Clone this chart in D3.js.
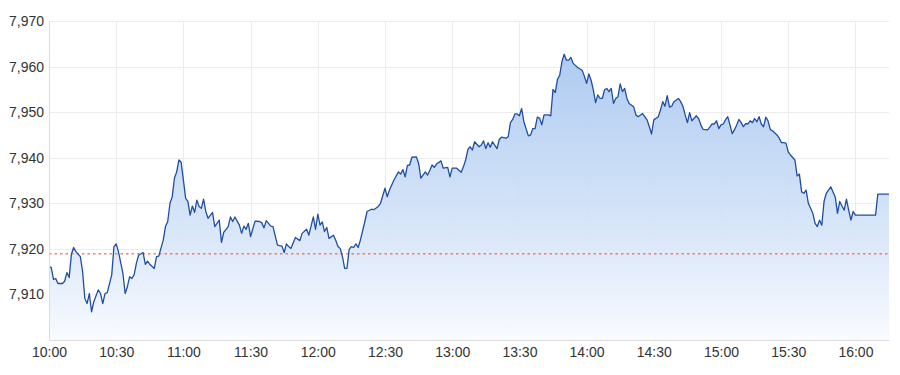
<!DOCTYPE html>
<meta charset="utf-8">
<style>
    body { margin: 0; background: #fff; }
    svg { display: block; font-family: "Liberation Sans", Arial, sans-serif; }
    .grid line { stroke: #ececec; stroke-width: 1; }
    .axis text { fill: #333; font-size: 14px; }
    .line { fill: none; stroke: #1f4ea1; stroke-width: 1.3; stroke-linejoin: round; }
</style>
<svg width="900" height="375"></svg>
<script src="https://d3js.org/d3.v7.min.js"></script>
<script>

    // intraday prints
    var times = [
        "10:00","10:01","10:02","10:03","10:04","10:06","10:07","10:08","10:09","10:10",
        "10:11","10:12","10:14","10:15","10:16","10:17","10:18","10:19","10:20","10:22",
        "10:23","10:24","10:25","10:26","10:28","10:29","10:30","10:31","10:33","10:34",
        "10:35","10:36","10:37","10:38","10:39","10:40","10:42","10:43","10:44","10:45",
        "10:47","10:48","10:49","10:51","10:52","10:53","10:54","10:55","10:56","10:57",
        "10:58","10:59","11:00","11:01","11:02","11:03","11:04","11:05","11:06","11:07",
        "11:08","11:09","11:10","11:11","11:13","11:14","11:16","11:17","11:18","11:20",
        "11:21","11:22","11:23","11:25","11:26","11:27","11:28","11:29","11:30","11:32",
        "11:34","11:35","11:36","11:37","11:38","11:39","11:40","11:42","11:44","11:45",
        "11:46","11:47","11:48","11:50","11:52","11:53","11:55","11:56","11:58","11:59",
        "12:00","12:01","12:02","12:03","12:04","12:05","12:07","12:08","12:09","12:10",
        "12:11","12:12","12:13","12:14","12:15","12:16","12:17","12:18","12:19","12:21",
        "12:22","12:24","12:25","12:27","12:28","12:30","12:31","12:32","12:34","12:36",
        "12:37","12:38","12:39","12:40","12:41","12:42","12:44","12:45","12:46","12:48",
        "12:49","12:50","12:51","12:52","12:53","12:55","12:56","12:58","12:59","13:00",
        "13:02","13:04","13:05","13:06","13:07","13:08","13:09","13:10","13:12","13:13",
        "13:14","13:15","13:16","13:17","13:18","13:20","13:21","13:22","13:24","13:25",
        "13:26","13:27","13:28","13:29","13:30","13:31","13:32","13:34","13:35","13:36",
        "13:37","13:38","13:39","13:40","13:41","13:43","13:44","13:45","13:46","13:47",
        "13:48","13:49","13:50","13:51","13:52","13:53","13:54","13:56","13:58","13:59",
        "14:00","14:01","14:02","14:03","14:04","14:05","14:06","14:07","14:08","14:09",
        "14:10","14:11","14:12","14:13","14:14","14:15","14:16","14:17","14:18","14:19",
        "14:21","14:22","14:23","14:25","14:27","14:28","14:29","14:30","14:32","14:33",
        "14:34","14:35","14:36","14:37","14:38","14:39","14:41","14:42","14:43","14:44",
        "14:45","14:46","14:47","14:49","14:50","14:51","14:52","14:54","14:55","14:56",
        "14:57","14:58","14:59","15:00","15:01","15:02","15:03","15:04","15:05","15:06",
        "15:07","15:08","15:09","15:10","15:11","15:12","15:13","15:14","15:15","15:16",
        "15:17","15:18","15:19","15:20","15:21","15:22","15:23","15:25","15:26","15:27",
        "15:28","15:29","15:30","15:31","15:33","15:34","15:35","15:36","15:37","15:38",
        "15:39","15:40","15:41","15:42","15:43","15:44","15:45","15:46","15:47","15:48",
        "15:49","15:50","15:51","15:52","15:53","15:54","15:55","15:56","15:57","15:58",
        "15:59","16:00","16:09","16:10","16:15"
    ];

    var values = [
        7916.1,7915.9,7913.3,7913.5,7912.4,7912.4,7912.9,7914.8,7913.7,7918.8,
        7920.3,7919.4,7918.3,7915.0,7909.1,7908.0,7910.2,7906.2,7908.4,7911.0,
        7910.2,7908.0,7910.2,7910.4,7914.3,7920.5,7921.1,7919.4,7914.6,7910.2,
        7911.7,7913.9,7913.5,7914.3,7916.8,7918.6,7919.2,7916.6,7917.3,7916.6,
        7915.7,7918.3,7918.4,7921.9,7924.9,7926.0,7930.0,7931.4,7935.5,7936.9,
        7939.5,7939.0,7935.1,7931.1,7930.4,7927.4,7929.4,7928.0,7930.7,7929.3,
        7928.9,7930.9,7928.2,7926.7,7928.0,7924.9,7926.3,7921.4,7923.6,7924.9,
        7927.0,7926.0,7927.0,7925.2,7923.4,7925.0,7924.3,7925.6,7922.7,7926.1,
        7926.0,7925.7,7924.6,7926.2,7925.6,7925.0,7924.9,7920.8,7920.6,7919.2,
        7921.1,7920.5,7920.1,7922.5,7921.8,7923.4,7924.3,7923.0,7927.0,7924.3,
        7927.6,7925.2,7925.9,7923.8,7924.7,7922.3,7923.0,7921.9,7920.5,7920.1,
        7918.3,7915.7,7915.7,7919.9,7920.5,7920.3,7921.1,7920.3,7921.9,7926.0,
        7928.2,7928.7,7928.6,7929.3,7930.0,7933.3,7931.4,7932.9,7935.1,7936.9,
        7936.4,7937.4,7935.8,7938.3,7938.4,7940.1,7940.2,7938.8,7935.5,7936.9,
        7936.2,7937.2,7938.4,7937.9,7938.6,7939.3,7937.7,7937.9,7935.8,7937.7,
        7937.7,7936.8,7938.0,7939.5,7941.8,7942.4,7941.7,7943.5,7942.4,7942.8,
        7943.7,7942.0,7943.3,7942.3,7943.5,7942.0,7944.0,7944.5,7944.3,7944.6,
        7947.7,7948.4,7949.6,7949.6,7949.2,7950.8,7947.9,7944.8,7945.0,7946.4,
        7946.4,7948.9,7948.7,7947.2,7949.4,7949.4,7949.2,7955.0,7954.3,7957.2,
        7958.1,7961.1,7962.7,7961.4,7961.4,7962.0,7960.7,7959.8,7959.2,7957.9,
        7956.3,7958.4,7957.0,7954.9,7952.1,7953.8,7953.0,7953.0,7954.9,7955.2,
        7954.5,7955.2,7951.9,7953.0,7953.4,7956.2,7954.5,7955.2,7953.0,7951.9,
        7951.2,7949.4,7949.0,7949.7,7948.3,7946.8,7945.2,7948.3,7949.0,7950.5,
        7952.3,7951.3,7953.6,7951.1,7951.3,7952.3,7953.0,7952.3,7951.3,7949.4,
        7947.7,7949.9,7948.1,7949.2,7948.6,7947.2,7946.2,7946.1,7946.7,7947.4,
        7947.4,7948.1,7946.4,7947.2,7947.4,7948.3,7949.0,7947.2,7945.3,7946.1,
        7947.2,7948.4,7947.7,7946.8,7947.5,7947.4,7948.1,7947.7,7948.6,7947.9,
        7949.0,7947.4,7946.8,7948.9,7948.1,7946.2,7945.9,7945.0,7944.3,7943.3,
        7943.3,7943.2,7941.3,7940.6,7939.5,7936.0,7936.4,7932.5,7932.2,7932.9,
        7930.0,7928.9,7927.8,7925.6,7924.9,7926.3,7925.2,7930.4,7932.2,7932.9,
        7933.6,7932.5,7931.4,7927.8,7930.4,7929.4,7928.5,7930.9,7928.5,7926.3,
        7928.2,7927.4,7927.4,7932.0,7932.0
    ];

    var prevClose = 7918.9;
    var yTicks = [7910, 7920, 7930, 7940, 7950, 7960, 7970];
    var xTickLabels = ["10:00","10:30","11:00","11:30","12:00","12:30","13:00","13:30","14:00","14:30","15:00","15:30","16:00"];
    var sessionStart = "10:00", sessionEnd = "16:15";
    var yMin = 7900, yMax = 7970;

    var parse = d3.timeParse("%H:%M");
    var data = times.map(function (t, i) { return { t: parse(t), v: values[i] }; });

    var svg = d3.select("svg"),
        margin = { top: 21, right: 11, bottom: 35, left: 49 },
        width = +svg.attr("width") - margin.left - margin.right,
        height = +svg.attr("height") - margin.top - margin.bottom,
        g = svg.append("g").attr("transform", "translate(" + margin.left + "," + margin.top + ")");

    var x = d3.scaleTime()
        .domain([parse(sessionStart), parse(sessionEnd)])
        .range([0, width]);

    var y = d3.scaleLinear()
        .domain([yMin, yMax])
        .range([height, 0]);

    var xTickDates = xTickLabels.map(parse);

    // gridlines
    g.append("g").attr("class", "grid")
        .selectAll("line").data(yTicks).join("line")
        .attr("x1", 0).attr("x2", width)
        .attr("y1", function (d) { return Math.round(y(d)) + 0.5; })
        .attr("y2", function (d) { return Math.round(y(d)) + 0.5; });

    g.append("g").attr("class", "grid")
        .selectAll("line").data(xTickDates.slice(1)).join("line")
        .attr("x1", function (d) { return Math.round(x(d)) + 0.5; })
        .attr("x2", function (d) { return Math.round(x(d)) + 0.5; })
        .attr("y1", 0).attr("y2", height);

    // area gradient
    var grad = svg.append("defs").append("linearGradient")
        .attr("id", "fillGrad")
        .attr("gradientUnits", "userSpaceOnUse")
        .attr("x1", 0).attr("x2", 0)
        .attr("y1", y(d3.max(values))).attr("y2", height);
    grad.append("stop").attr("offset", "0%").attr("stop-color", "#aac8f0").attr("stop-opacity", 0.95);
    grad.append("stop").attr("offset", "55%").attr("stop-color", "#cfe0f7").attr("stop-opacity", 0.9);
    grad.append("stop").attr("offset", "100%").attr("stop-color", "#f9fbff").attr("stop-opacity", 1);

    var area = d3.area()
        .x(function (d) { return x(d.t); })
        .y0(height)
        .y1(function (d) { return y(d.v); });

    var line = d3.line()
        .x(function (d) { return x(d.t); })
        .y(function (d) { return y(d.v); });

    g.append("path")
        .datum(data)
        .attr("fill", "url(#fillGrad)")
        .attr("d", area);

    // previous close reference
    g.append("line")
        .attr("x1", 0).attr("x2", width)
        .attr("y1", y(prevClose)).attr("y2", y(prevClose))
        .attr("stroke", "#f0442c")
        .attr("stroke-width", 1)
        .attr("stroke-dasharray", "2.5,3");

    g.append("path")
        .datum(data)
        .attr("class", "line")
        .attr("d", line);

    // axes
    var xAxis = g.append("g")
        .attr("class", "axis")
        .attr("transform", "translate(0," + height + ")")
        .call(d3.axisBottom(x).tickValues(xTickDates).tickFormat(d3.timeFormat("%H:%M")).tickSize(0).tickPadding(7));
    xAxis.select(".domain").attr("stroke", "#dcdcdc");
    xAxis.selectAll("text").style("font-size", "14px");

    var yAxis = g.append("g")
        .attr("class", "axis")
        .call(d3.axisLeft(y).tickValues(yTicks).tickFormat(d3.format(",")).tickSize(0).tickPadding(5));
    yAxis.select(".domain").attr("stroke", "#dcdcdc");
    yAxis.selectAll("text").style("font-size", "14px");

</script>
